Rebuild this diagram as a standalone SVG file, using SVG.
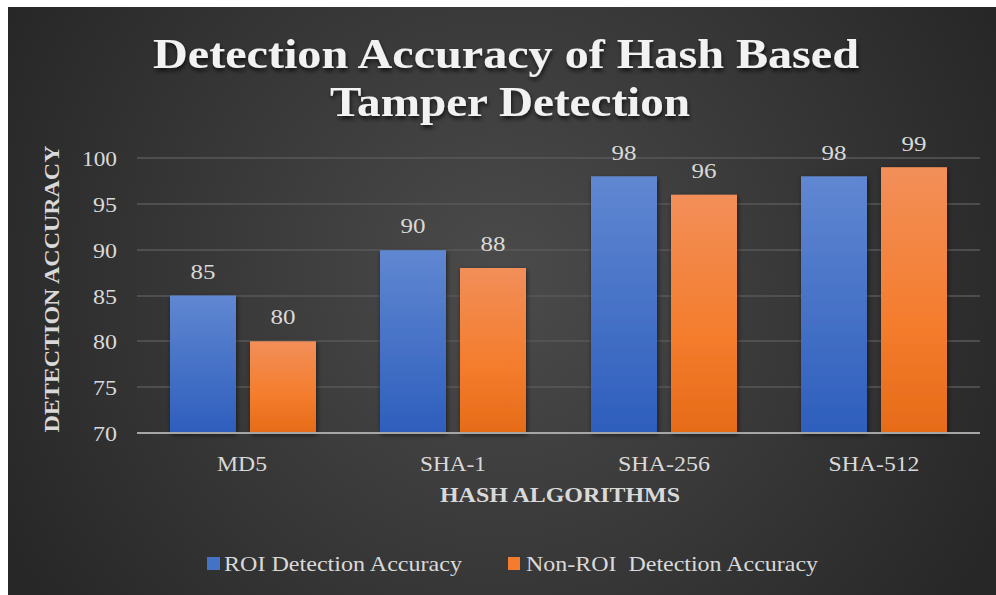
<svg xmlns="http://www.w3.org/2000/svg" width="996" height="595" viewBox="0 0 996 595">
<defs>
<radialGradient id="bg" cx="500" cy="280" r="560" gradientUnits="userSpaceOnUse">
<stop offset="0" stop-color="#4b4b4b"/>
<stop offset="1" stop-color="#272727"/>
</radialGradient>
<linearGradient id="gb" x1="0" y1="0" x2="0" y2="1">
<stop offset="0" stop-color="#6087d1"/>
<stop offset="1" stop-color="#2e5ebd"/>
</linearGradient>
<linearGradient id="go" x1="0" y1="0" x2="0" y2="1">
<stop offset="0" stop-color="#f28f59"/>
<stop offset="0.6" stop-color="#f47c2c"/>
<stop offset="1" stop-color="#e66b18"/>
</linearGradient>
<filter id="sh" x="-20%" y="-20%" width="140%" height="140%">
<feDropShadow dx="1" dy="2" stdDeviation="2.5" flood-color="#000" flood-opacity="0.55"/>
</filter>
<filter id="tsh" x="-5%" y="-20%" width="110%" height="150%">
<feDropShadow dx="1" dy="3" stdDeviation="2" flood-color="#000" flood-opacity="0.7"/>
</filter>
</defs>
<style>
.t{font-family:"Liberation Serif","Times New Roman",serif;fill:#d9d9d9}
.ax{font-size:21px;text-anchor:end}
.cat{font-size:21px;text-anchor:middle}
.val{font-size:21px;text-anchor:middle}
.ttl{font-size:21px;font-weight:bold;text-anchor:middle}
.grid{stroke:#595959;stroke-width:1.5}
</style>
<rect width="996" height="595" fill="#fff"/>
<rect x="8" y="7" width="988" height="588" fill="url(#bg)"/>
<g id="title" filter="url(#tsh)">
<text class="t" x="506" y="68" font-size="43" font-weight="bold" text-anchor="middle" style="fill:#f2f2f2" textLength="706" lengthAdjust="spacingAndGlyphs">Detection Accuracy of Hash Based</text>
<text class="t" x="510" y="116" font-size="43" font-weight="bold" text-anchor="middle" style="fill:#f2f2f2" textLength="360" lengthAdjust="spacingAndGlyphs">Tamper Detection</text>
</g>
<g id="grid">
<line class="grid" x1="137" y1="158" x2="980" y2="158"/>
<line class="grid" x1="137" y1="204" x2="980" y2="204"/>
<line class="grid" x1="137" y1="250" x2="980" y2="250"/>
<line class="grid" x1="137" y1="296" x2="980" y2="296"/>
<line class="grid" x1="137" y1="341" x2="980" y2="341"/>
<line class="grid" x1="137" y1="387" x2="980" y2="387"/>
</g>
<g id="y-axis">
<text class="t ax" x="117" y="166" textLength="35" lengthAdjust="spacingAndGlyphs">100</text>
<text class="t ax" x="117" y="212" textLength="24" lengthAdjust="spacingAndGlyphs">95</text>
<text class="t ax" x="117" y="258" textLength="24" lengthAdjust="spacingAndGlyphs">90</text>
<text class="t ax" x="117" y="304" textLength="24" lengthAdjust="spacingAndGlyphs">85</text>
<text class="t ax" x="117" y="349" textLength="24" lengthAdjust="spacingAndGlyphs">80</text>
<text class="t ax" x="117" y="395" textLength="24" lengthAdjust="spacingAndGlyphs">75</text>
<text class="t ax" x="117" y="441" textLength="24" lengthAdjust="spacingAndGlyphs">70</text>
<text class="t ttl" transform="translate(59,289) rotate(-90)" textLength="287" lengthAdjust="spacingAndGlyphs">DETECTION ACCURACY</text>
</g>
<g id="bars" filter="url(#sh)">
<rect id="bar-md5-roi" x="170" y="295.5" width="66" height="137.5" fill="url(#gb)"/>
<rect id="bar-md5-non" x="250" y="341.3" width="66" height="91.7" fill="url(#go)"/>
<rect id="bar-sha1-roi" x="380" y="250.2" width="66" height="182.8" fill="url(#gb)"/>
<rect id="bar-sha1-non" x="460" y="268" width="66" height="165" fill="url(#go)"/>
<rect id="bar-sha256-roi" x="591" y="176.3" width="66" height="256.7" fill="url(#gb)"/>
<rect id="bar-sha256-non" x="671" y="194.7" width="66" height="238.3" fill="url(#go)"/>
<rect id="bar-sha512-roi" x="801" y="176.3" width="66" height="256.7" fill="url(#gb)"/>
<rect id="bar-sha512-non" x="881" y="167.2" width="66" height="265.8" fill="url(#go)"/>
</g>
<line id="baseline" x1="137" y1="433" x2="980" y2="433" stroke="#a6a6a6" stroke-width="2"/>
<g id="values">
<text class="t val" x="203" y="279" textLength="25" lengthAdjust="spacingAndGlyphs">85</text>
<text class="t val" x="283" y="324" textLength="25" lengthAdjust="spacingAndGlyphs">80</text>
<text class="t val" x="413" y="233" textLength="25" lengthAdjust="spacingAndGlyphs">90</text>
<text class="t val" x="493" y="251" textLength="25" lengthAdjust="spacingAndGlyphs">88</text>
<text class="t val" x="624" y="160" textLength="25" lengthAdjust="spacingAndGlyphs">98</text>
<text class="t val" x="704" y="178" textLength="25" lengthAdjust="spacingAndGlyphs">96</text>
<text class="t val" x="834" y="160" textLength="25" lengthAdjust="spacingAndGlyphs">98</text>
<text class="t val" x="914" y="151" textLength="25" lengthAdjust="spacingAndGlyphs">99</text>
</g>
<g id="x-axis">
<text class="t cat" x="242" y="471" textLength="50" lengthAdjust="spacingAndGlyphs">MD5</text>
<text class="t cat" x="453" y="471" textLength="66" lengthAdjust="spacingAndGlyphs">SHA-1</text>
<text class="t cat" x="664" y="471" textLength="92" lengthAdjust="spacingAndGlyphs">SHA-256</text>
<text class="t cat" x="874" y="471" textLength="91" lengthAdjust="spacingAndGlyphs">SHA-512</text>
<text class="t ttl" x="560" y="502" textLength="240" lengthAdjust="spacingAndGlyphs">HASH ALGORITHMS</text>
</g>
<g id="legend">
<rect x="207" y="557" width="13" height="13" fill="#4472c4"/>
<text class="t" x="224" y="571" font-size="21" textLength="238" lengthAdjust="spacingAndGlyphs">ROI Detection Accuracy</text>
<rect x="508" y="557" width="12" height="13" fill="#f47c2c"/>
<text class="t" x="526" y="571" font-size="21" xml:space="preserve" textLength="292" lengthAdjust="spacingAndGlyphs">Non-ROI  Detection Accuracy</text>
</g>
</svg>
